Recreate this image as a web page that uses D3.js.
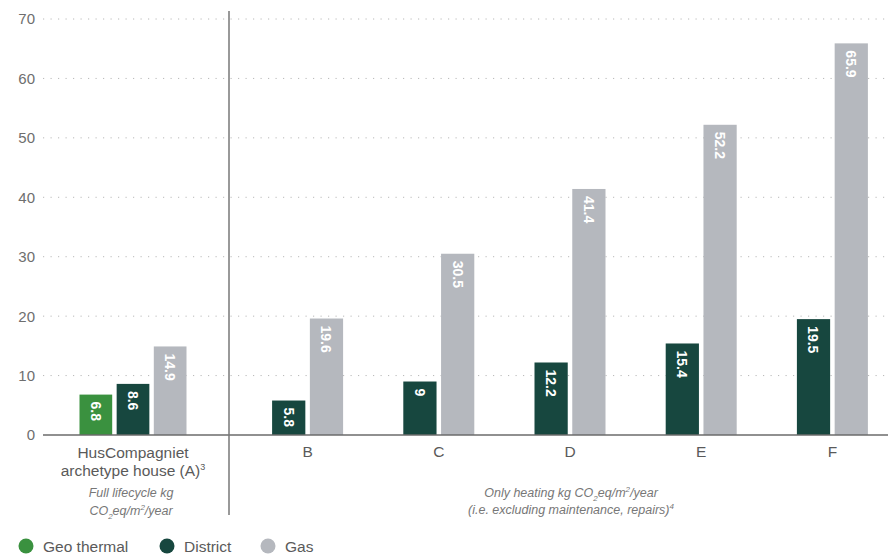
<!DOCTYPE html>
<html><head><meta charset="utf-8">
<script src="https://cdn.jsdelivr.net/npm/d3@7"></script>
<style>
body{margin:0;background:#fff;}
text{font-family:"Liberation Sans",Arial,Helvetica,sans-serif;}
</style></head>
<body><svg id="chart" width="888" height="554"></svg>
<script>
// ---- data ----
const leftCategory = ["A"];
const rightCategories = ["B","C","D","E","F"];
const seriesNames = ["Geo thermal","District","Gas"];
const seriesKeys = ["geo","district","gas"];
const seriesColors = ["#3a913f","#17473f","#b5b8be"];
const geoValues = [6.8];
const districtValues = [8.6, 5.8, 9, 12.2, 15.4, 19.5];
const gasValues = [14.9, 19.6, 30.5, 41.4, 52.2, 65.9];
const yTicks = [0,10,20,30,40,50,60,70];

const svg = d3.select("#chart");
const y = d3.scaleLinear().domain([0,70]).range([435,19]);

// gridlines
svg.append("g").selectAll("line").data(yTicks.filter(d=>d>0)).join("line")
  .attr("x1",43).attr("x2",888).attr("y1",d=>y(d)).attr("y2",d=>y(d))
  .attr("stroke","#b8b8b8").attr("stroke-width",1).attr("stroke-dasharray","1.2,6.3");

// y labels
svg.append("g").selectAll("text").data(yTicks).join("text")
  .attr("x",35).attr("y",d=>y(d)).attr("dy","0.36em").attr("text-anchor","end")
  .attr("font-size",15).attr("fill","#6e6e6e").text(d=>d);

// x scales
const xLeft = d3.scaleBand().domain(leftCategory).range([37,229]);
const xRight = d3.scaleBand().domain(rightCategories).range([242,898]);
const innerA = d3.scaleBand().domain(seriesKeys).range([-53.5,53.5]).paddingInner(0.12);
const innerR = d3.scaleBand().domain(["district","gas"]).range([-35.5,35.5]).paddingInner(0.12);

const bars = [];
bars.push({key:"geo", cx: xLeft("A")+xLeft.bandwidth()/2, inner: innerA, v: geoValues[0]});
bars.push({key:"district", cx: xLeft("A")+xLeft.bandwidth()/2, inner: innerA, v: districtValues[0]});
bars.push({key:"gas", cx: xLeft("A")+xLeft.bandwidth()/2, inner: innerA, v: gasValues[0]});
rightCategories.forEach((c,i)=>{
  const cx = xRight(c)+xRight.bandwidth()/2;
  bars.push({key:"district", cx, inner: innerR, v: districtValues[i+1]});
  bars.push({key:"gas", cx, inner: innerR, v: gasValues[i+1]});
});
const color = d3.scaleOrdinal().domain(seriesKeys).range(seriesColors);

const bg = svg.append("g");
bg.selectAll("rect").data(bars).join("rect")
  .attr("x",d=>d.cx+d.inner(d.key)).attr("width",d=>d.inner.bandwidth())
  .attr("y",d=>y(d.v)).attr("height",d=>y(0)-y(d.v))
  .attr("fill",d=>color(d.key));

bg.selectAll("text").data(bars).join("text")
  .attr("transform",d=>`translate(${d.cx+d.inner(d.key)+d.inner.bandwidth()/2},${y(d.v)+7}) rotate(90)`)
  .attr("dy","0.36em").attr("text-anchor","start")
  .attr("font-size",14).attr("font-weight","bold").attr("fill","#fff")
  .text(d=>d.v);

// axis line
svg.append("line").attr("x1",43).attr("x2",888).attr("y1",y(0)).attr("y2",y(0))
  .attr("stroke","#6b6b6b").attr("stroke-width",1.5);
// divider
svg.append("line").attr("x1",229).attr("x2",229).attr("y1",11).attr("y2",515)
  .attr("stroke","#777").attr("stroke-width",1.5);

// category labels
const aCx = xLeft("A")+xLeft.bandwidth()/2;
const catA = svg.append("text").attr("x",aCx).attr("text-anchor","middle").attr("font-size",15.5).attr("fill","#5a5a5a");
catA.append("tspan").attr("x",aCx).attr("y",458).text("HusCompagniet");
const t2 = catA.append("tspan").attr("x",aCx).attr("y",476).text("archetype house (A)");
catA.append("tspan").attr("font-size",9).attr("dy",-6).text("3");

svg.append("g").selectAll("text").data(rightCategories).join("text")
  .attr("x",d=>xRight(d)+xRight.bandwidth()/2).attr("y",457).attr("text-anchor","middle")
  .attr("font-size",15.5).attr("fill","#5a5a5a").text(d=>d);

// notes
const n1 = svg.append("text").attr("text-anchor","middle").attr("font-size",12.5).attr("font-style","italic").attr("fill","#777");
n1.append("tspan").attr("x",131).attr("y",497).text("Full lifecycle kg");
const n1b = svg.append("text").attr("x",131).attr("y",515).attr("text-anchor","middle").attr("font-size",12.5).attr("font-style","italic").attr("fill","#777");
n1b.append("tspan").text("CO");
n1b.append("tspan").attr("font-size",8).attr("dy",4).text("2");
n1b.append("tspan").attr("dy",-4).text("eq/m");
n1b.append("tspan").attr("font-size",8).attr("dy",-5).text("2");
n1b.append("tspan").attr("dy",5).text("/year");

const n2 = svg.append("text").attr("x",571).attr("y",497).attr("text-anchor","middle").attr("font-size",12.5).attr("font-style","italic").attr("fill","#777");
n2.append("tspan").text("Only heating kg CO");
n2.append("tspan").attr("font-size",8).attr("dy",4).text("2");
n2.append("tspan").attr("dy",-4).text("eq/m");
n2.append("tspan").attr("font-size",8).attr("dy",-5).text("2");
n2.append("tspan").attr("dy",5).text("/year");
const n3 = svg.append("text").attr("x",571).attr("y",514).attr("text-anchor","middle").attr("font-size",12.5).attr("font-style","italic").attr("fill","#777");
n3.append("tspan").text("(i.e. excluding maintenance, repairs)");
n3.append("tspan").attr("font-size",8).attr("dy",-5).text("4");

// legend
const legendX = [26,167,268];
const lg = svg.append("g");
seriesNames.forEach((n,i)=>{
  lg.append("circle").attr("cx",legendX[i]).attr("cy",546).attr("r",7.5).attr("fill",seriesColors[i]);
  lg.append("text").attr("x",legendX[i]+17).attr("y",546).attr("dy","0.36em")
    .attr("font-size",15.5).attr("fill","#5a5a5a").text(n);
});
</script></body></html>
